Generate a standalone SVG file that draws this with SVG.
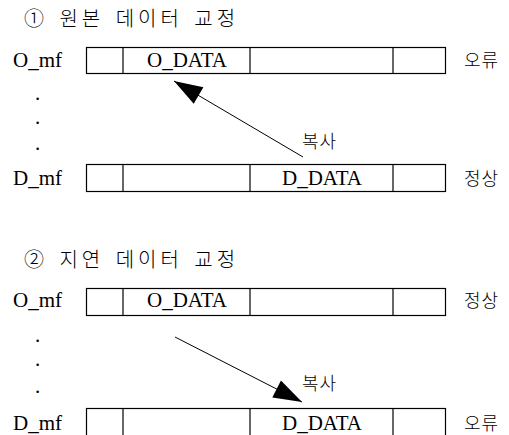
<svg xmlns="http://www.w3.org/2000/svg" width="509" height="435" viewBox="0 0 509 435">
  <defs>
    <style>
      .lat { font-family: "Liberation Serif", "Times New Roman", serif; font-size: 21px; fill: #000; }
      .kr { font-family: "Noto Sans CJK KR", "Noto Sans", sans-serif; font-size: 18px; fill: #000; font-weight: 300; letter-spacing: 1px; }
      .title { font-family: "Noto Sans CJK KR", "Noto Sans", sans-serif; font-size: 20px; fill: #000; font-weight: 300; letter-spacing: 4px; word-spacing: 3px; }
      .cell { fill: #fff; stroke: #000; stroke-width: 1.2; }
      .div { stroke: #000; stroke-width: 1.2; }
      .link { stroke: #000; stroke-width: 1; fill: none; }
    </style>
    <marker id="head" viewBox="0 0 30 20" refX="30" refY="10" markerWidth="30" markerHeight="19" markerUnits="userSpaceOnUse" orient="auto">
      <path d="M0,0 L30,10 L0,20 Z" fill="#000"/>
    </marker>
  </defs>

  <!-- section 1: original data correction -->
  <text class="title" x="24" y="26">① 원본 데이터 교정</text>

  <g id="o_mf_1">
    <text class="lat" x="13" y="67">O_mf</text>
    <rect class="cell" x="86.5" y="47.5" width="359" height="26"/>
    <line class="div" x1="123" y1="47.5" x2="123" y2="73.5"/>
    <line class="div" x1="250" y1="47.5" x2="250" y2="73.5"/>
    <line class="div" x1="393" y1="47.5" x2="393" y2="73.5"/>
    <text class="lat" x="187" y="67" text-anchor="middle">O_DATA</text>
    <text class="kr" x="464" y="67">오류</text>
  </g>

  <g id="dots_1">
    <text class="lat" x="35" y="100">.</text>
    <text class="lat" x="35" y="124">.</text>
    <text class="lat" x="35" y="150">.</text>
  </g>

  <g id="d_mf_1">
    <text class="lat" x="13" y="185">D_mf</text>
    <rect class="cell" x="86.5" y="164.5" width="359" height="27"/>
    <line class="div" x1="123" y1="164.5" x2="123" y2="191.5"/>
    <line class="div" x1="250" y1="164.5" x2="250" y2="191.5"/>
    <line class="div" x1="393" y1="164.5" x2="393" y2="191.5"/>
    <text class="lat" x="322" y="185" text-anchor="middle">D_DATA</text>
    <text class="kr" x="464" y="185">정상</text>
  </g>

  <!-- section 2: delayed data correction -->
  <text class="title" x="24" y="267">② 지연 데이터 교정</text>

  <g id="o_mf_2">
    <text class="lat" x="13" y="307">O_mf</text>
    <rect class="cell" x="86.5" y="288.5" width="359" height="27"/>
    <line class="div" x1="123" y1="288.5" x2="123" y2="315.5"/>
    <line class="div" x1="250" y1="288.5" x2="250" y2="315.5"/>
    <line class="div" x1="393" y1="288.5" x2="393" y2="315.5"/>
    <text class="lat" x="187" y="307" text-anchor="middle">O_DATA</text>
    <text class="kr" x="464" y="307">정상</text>
  </g>

  <g id="dots_2">
    <text class="lat" x="35" y="342">.</text>
    <text class="lat" x="35" y="366">.</text>
    <text class="lat" x="35" y="393">.</text>
  </g>

  <g id="d_mf_2">
    <text class="lat" x="13" y="430">D_mf</text>
    <rect class="cell" x="86.5" y="408.5" width="359" height="30"/>
    <line class="div" x1="123" y1="408.5" x2="123" y2="436"/>
    <line class="div" x1="250" y1="408.5" x2="250" y2="436"/>
    <line class="div" x1="393" y1="408.5" x2="393" y2="436"/>
    <text class="lat" x="322" y="430" text-anchor="middle">D_DATA</text>
    <text class="kr" x="464" y="430">오류</text>
  </g>

  <!-- copy connectors -->
  <g id="connectors">
    <line class="link" x1="303" y1="157" x2="174" y2="81" marker-end="url(#head)"/>
    <text class="kr" x="302" y="148">복사</text>
    <line class="link" x1="175" y1="337" x2="302" y2="402" marker-end="url(#head)"/>
    <text class="kr" x="302" y="390">복사</text>
  </g>
</svg>
